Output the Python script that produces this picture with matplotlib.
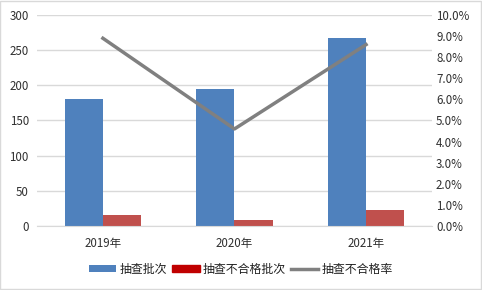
import numpy as np
import matplotlib
matplotlib.use("Agg")
import matplotlib.pyplot as plt
from matplotlib.ticker import PercentFormatter
from matplotlib.patches import Rectangle, Patch

plt.rcParams['font.family'] = ['Noto Sans CJK SC', 'DejaVu Sans']

# data
years = ["2019年", "2020年", "2021年"]
checked = [180, 195, 267]
failed = [16, 9, 23]
fail_rate = [8.9, 4.6, 8.6]  # percent

fig = plt.figure(figsize=(4.82, 2.90), dpi=100)
fig.patches.append(Rectangle((0.001, 0.002), 0.996, 0.994, transform=fig.transFigure,
                             fill=False, edgecolor="#d9d9d9", linewidth=1))
ax = fig.add_axes([0.077, 0.221, 0.819, 0.727])
ax2 = ax.twinx()

x = np.arange(len(years))
w = 0.29
b1 = ax.bar(x - w/2, checked, w, color="#4f81bd", label="抽查批次", zorder=2)
b2 = ax.bar(x + w/2, failed, w, color="#c0504d", label="抽查不合格批次", zorder=2)
l1, = ax2.plot(x, fail_rate, color="#808080", linewidth=2.5, label="抽查不合格率", zorder=3)

ax.set_xlim(-0.5, 2.5)
ax.set_ylim(0, 300)
ax.set_yticks(range(0, 301, 50))
ax2.set_ylim(0, 10)
ax2.set_yticks(np.arange(0, 10.1, 1))
ax2.yaxis.set_major_formatter(PercentFormatter(decimals=1))

ax.set_xticks(x)
ax.set_xticklabels(years)
ax.grid(axis="y", color="#d9d9d9", linewidth=1, zorder=0)
ax.set_axisbelow(True)

for a in (ax, ax2):
    for s in a.spines.values():
        s.set_visible(False)
    a.tick_params(length=0, labelsize=8.3, colors="#303030")
ax.spines["bottom"].set_visible(True)
ax.spines["bottom"].set_color("#d9d9d9")
ax.tick_params(axis="x", pad=8)
ax.tick_params(axis="y", pad=6)
ax2.tick_params(axis="y", pad=3)

# legend patch for the second series is darker red in the reference
h2 = Patch(color="#c00000")
fig.legend([b1, h2, l1], ["抽查批次", "抽查不合格批次", "抽查不合格率"],
           loc="center", bbox_to_anchor=(0.5, 0.072), ncol=3, frameon=False,
           fontsize=8.6, handlelength=2.3, handleheight=0.6, columnspacing=0.4,
           handletextpad=0.3, labelcolor="#202020")

fig.savefig("out.png", dpi=100)
